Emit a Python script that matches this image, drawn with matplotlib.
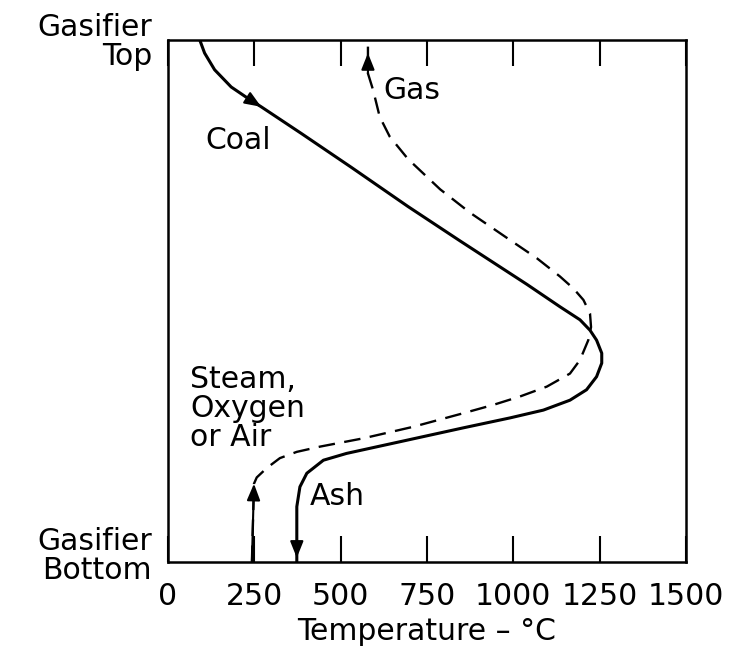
import numpy as np
import matplotlib
matplotlib.use("Agg")
import matplotlib.pyplot as plt

# values: temperature (deg C) vs height in gasifier (0 = bottom, 1 = top)
# coal / ash (solid), top -> bottom
coal_temp = [92, 106, 135, 183, 232, 270, 386, 531, 695, 846, 1039, 1135, 1193, 1222,
             1241, 1256, 1256, 1241, 1212, 1164, 1087, 990, 855, 662, 517, 450, 402,
             382, 373, 373, 373, 373]
coal_height = [1.0, 0.975, 0.943, 0.910, 0.888, 0.872, 0.821, 0.756, 0.681, 0.615, 0.532, 0.489, 0.464, 0.444,
               0.425, 0.400, 0.381, 0.355, 0.330, 0.310, 0.291, 0.276, 0.257, 0.229, 0.208, 0.195, 0.170,
               0.144, 0.106, 0.029, 0.008, 0.0]

# steam/oxygen -> gas (dashed), bottom -> top
gas_temp = [243, 249, 257, 286, 324, 373, 440, 566, 710, 855, 942, 1019, 1097, 1164, 1193,
            1217, 1225, 1222, 1203, 1174, 1135, 1068, 990, 875, 788, 695, 642, 613, 594,
            579, 579, 579]
gas_height = [0.0, 0.150, 0.162, 0.180, 0.199, 0.211, 0.221, 0.237, 0.259, 0.285, 0.301, 0.317, 0.336, 0.361, 0.387,
              0.425, 0.450, 0.476, 0.502, 0.524, 0.547, 0.582, 0.617, 0.669, 0.714, 0.772, 0.815, 0.853, 0.904,
              0.936, 0.975, 1.0]

temp_ticks = [0, 250, 500, 750, 1000, 1250, 1500]

# flow direction arrows: index of arrow tip on each curve
coal_arrows = [5, 30]
gas_arrows = [1, 30]

labels = {
    "Coal": (107, 0.808),
    "Gas": (623, 0.904),
    "Steam,\nOxygen\nor Air": (64, 0.295),
    "Ash": (411, 0.126),
}


def main():
    plt.rcParams["font.family"] = ["DejaVu Sans"]
    fs = 21.5

    fig = plt.figure(figsize=(7.43, 6.57), dpi=100)
    ax = fig.add_axes([0.2261, 0.1446, 0.6972, 0.7945])

    ax.plot(coal_temp, coal_height, color="black", lw=2.2, solid_joinstyle="round")
    ax.plot(gas_temp, gas_height, color="black", lw=1.7, dashes=(7, 4))

    head = dict(arrowstyle="-|>,head_length=0.5,head_width=0.2", color="black",
                lw=1.5, shrinkA=0, shrinkB=0, mutation_scale=20)
    for xs, ys, idx in [(coal_temp, coal_height, coal_arrows), (gas_temp, gas_height, gas_arrows)]:
        for i in idx:
            ax.annotate("", xy=(xs[i], ys[i]), xytext=(xs[i - 1], ys[i - 1]), arrowprops=head)

    for txt, (x, y) in labels.items():
        ax.text(x, y, txt, fontsize=fs, ha="left", va="center", linespacing=1.0)

    ax.text(-0.031, 0.996, "Gasifier\nTop", transform=ax.transAxes, fontsize=fs,
            ha="right", va="center", linespacing=0.97)
    ax.text(-0.031, 0.012, "Gasifier\nBottom", transform=ax.transAxes, fontsize=fs,
            ha="right", va="center", linespacing=1.0)

    ax.set_xlim(0, 1500)
    ax.set_ylim(0, 1)
    ax.set_xticks(temp_ticks)
    ax.set_xticklabels([str(t) for t in temp_ticks])
    ax.set_yticks([])
    ax.tick_params(axis="x", direction="in", top=True, length=18.5, width=1.5,
                   labelsize=fs, pad=14.5)
    for s in ax.spines.values():
        s.set_linewidth(1.8)
    ax.set_xlabel("Temperature – °C", fontsize=fs, labelpad=4)

    fig.savefig("out.png", dpi=100)
    plt.close(fig)


if __name__ == "__main__":
    main()
